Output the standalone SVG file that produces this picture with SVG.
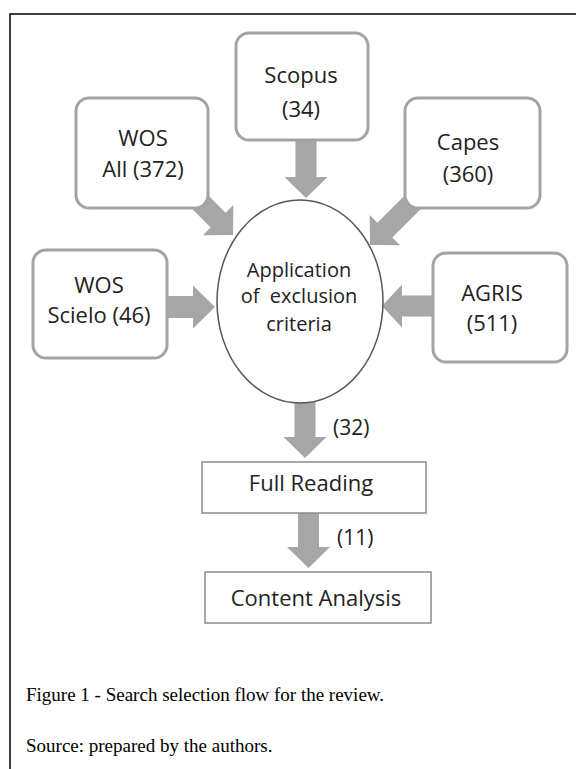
<svg xmlns="http://www.w3.org/2000/svg" width="576" height="769" viewBox="0 0 576 769">
<style>
.frame{fill:none;stroke:#000;stroke-width:1.5}
.rbox{fill:#fff;stroke:#a3a3a3;stroke-width:3}
.sbox{fill:#fff;stroke:#8c8c8c;stroke-width:1.5}
.ell{fill:#fff;stroke:#555;stroke-width:1.5}
.arr{fill:#a6a6a6;stroke:none}
.lbl{font-family:"Open Sans","Noto Sans",sans-serif;font-size:22px;fill:#222;text-anchor:middle}
.elbl{font-family:"Open Sans","Noto Sans",sans-serif;font-size:20px;fill:#222;text-anchor:middle}
.cnt{font-family:"Open Sans","Noto Sans",sans-serif;font-size:21px;fill:#222}
.cap{font-family:"Liberation Serif","Times New Roman",serif;font-size:19px;fill:#000}
</style>
<rect class="frame" x="10" y="14" width="600" height="800"/>
<g id="connectors">
<polygon class="arr" points="295.5,135 316.5,135 316.5,177 327.5,177 306,198 284.5,177 295.5,177"/>
<polygon class="arr" points="190.9,178.1 225.6,212.7 233.35,204.95 233,235 202.95,235.35 210.7,227.6 176.1,192.9"/>
<polygon class="arr" points="426.9,202.9 392.3,237.6 400.05,245.35 370,245 369.65,214.95 377.4,222.7 412.1,188.1"/>
<polygon class="arr" points="160,296 193,296 193,285.5 215,307 193,328.5 193,318 160,318"/>
<polygon class="arr" points="440,295.5 402,295.5 402,284.5 382,306 402,327.5 402,316.5 440,316.5"/>
<polygon class="arr" points="294.5,395 315.5,395 315.5,437 326.5,437 305,458 283.5,437 294.5,437"/>
<polygon class="arr" points="298,513 319,513 319,547 330,547 308.5,568 287,547 298,547"/>
<text class="cnt" x="333" y="435">(32)</text>
<text class="cnt" x="337" y="545">(11)</text>
</g>
<g id="scopus">
<rect class="rbox" x="236" y="33" width="132" height="107" rx="13"/>
<text class="lbl" x="301" y="83">Scopus</text>
<text class="lbl" x="301" y="117">(34)</text>
</g>
<g id="wos-all">
<rect class="rbox" x="76" y="98" width="132" height="110" rx="13"/>
<text class="lbl" x="143" y="146">WOS</text>
<text class="lbl" x="143" y="177">All (372)</text>
</g>
<g id="capes">
<rect class="rbox" x="405" y="98" width="135" height="110" rx="13"/>
<text class="lbl" x="468" y="150">Capes</text>
<text class="lbl" x="468" y="182">(360)</text>
</g>
<g id="wos-scielo">
<rect class="rbox" x="33" y="250" width="134" height="108" rx="13"/>
<text class="lbl" x="99" y="293">WOS</text>
<text class="lbl" x="99" y="323">Scielo (46)</text>
</g>
<g id="agris">
<rect class="rbox" x="433" y="253" width="134" height="109" rx="13"/>
<text class="lbl" x="492" y="301">AGRIS</text>
<text class="lbl" x="492" y="331">(511)</text>
</g>
<g id="exclusion">
<ellipse class="ell" cx="300" cy="301.5" rx="83" ry="101.5"/>
<text class="elbl" x="299" y="277">Application</text>
<text class="elbl" x="299" y="303" xml:space="preserve">of  exclusion</text>
<text class="elbl" x="299" y="331">criteria</text>
</g>
<g id="full-reading">
<rect class="sbox" x="202" y="462" width="224" height="51"/>
<text class="lbl" x="311" y="491">Full Reading</text>
</g>
<g id="content-analysis">
<rect class="sbox" x="205" y="572" width="226" height="51"/>
<text class="lbl" x="316" y="606">Content Analysis</text>
</g>
<g id="caption">
<text class="cap" x="26" y="701">Figure 1 - Search selection flow for the review.</text>
<text class="cap" x="26" y="752">Source: prepared by the authors.</text>
</g>
</svg>
